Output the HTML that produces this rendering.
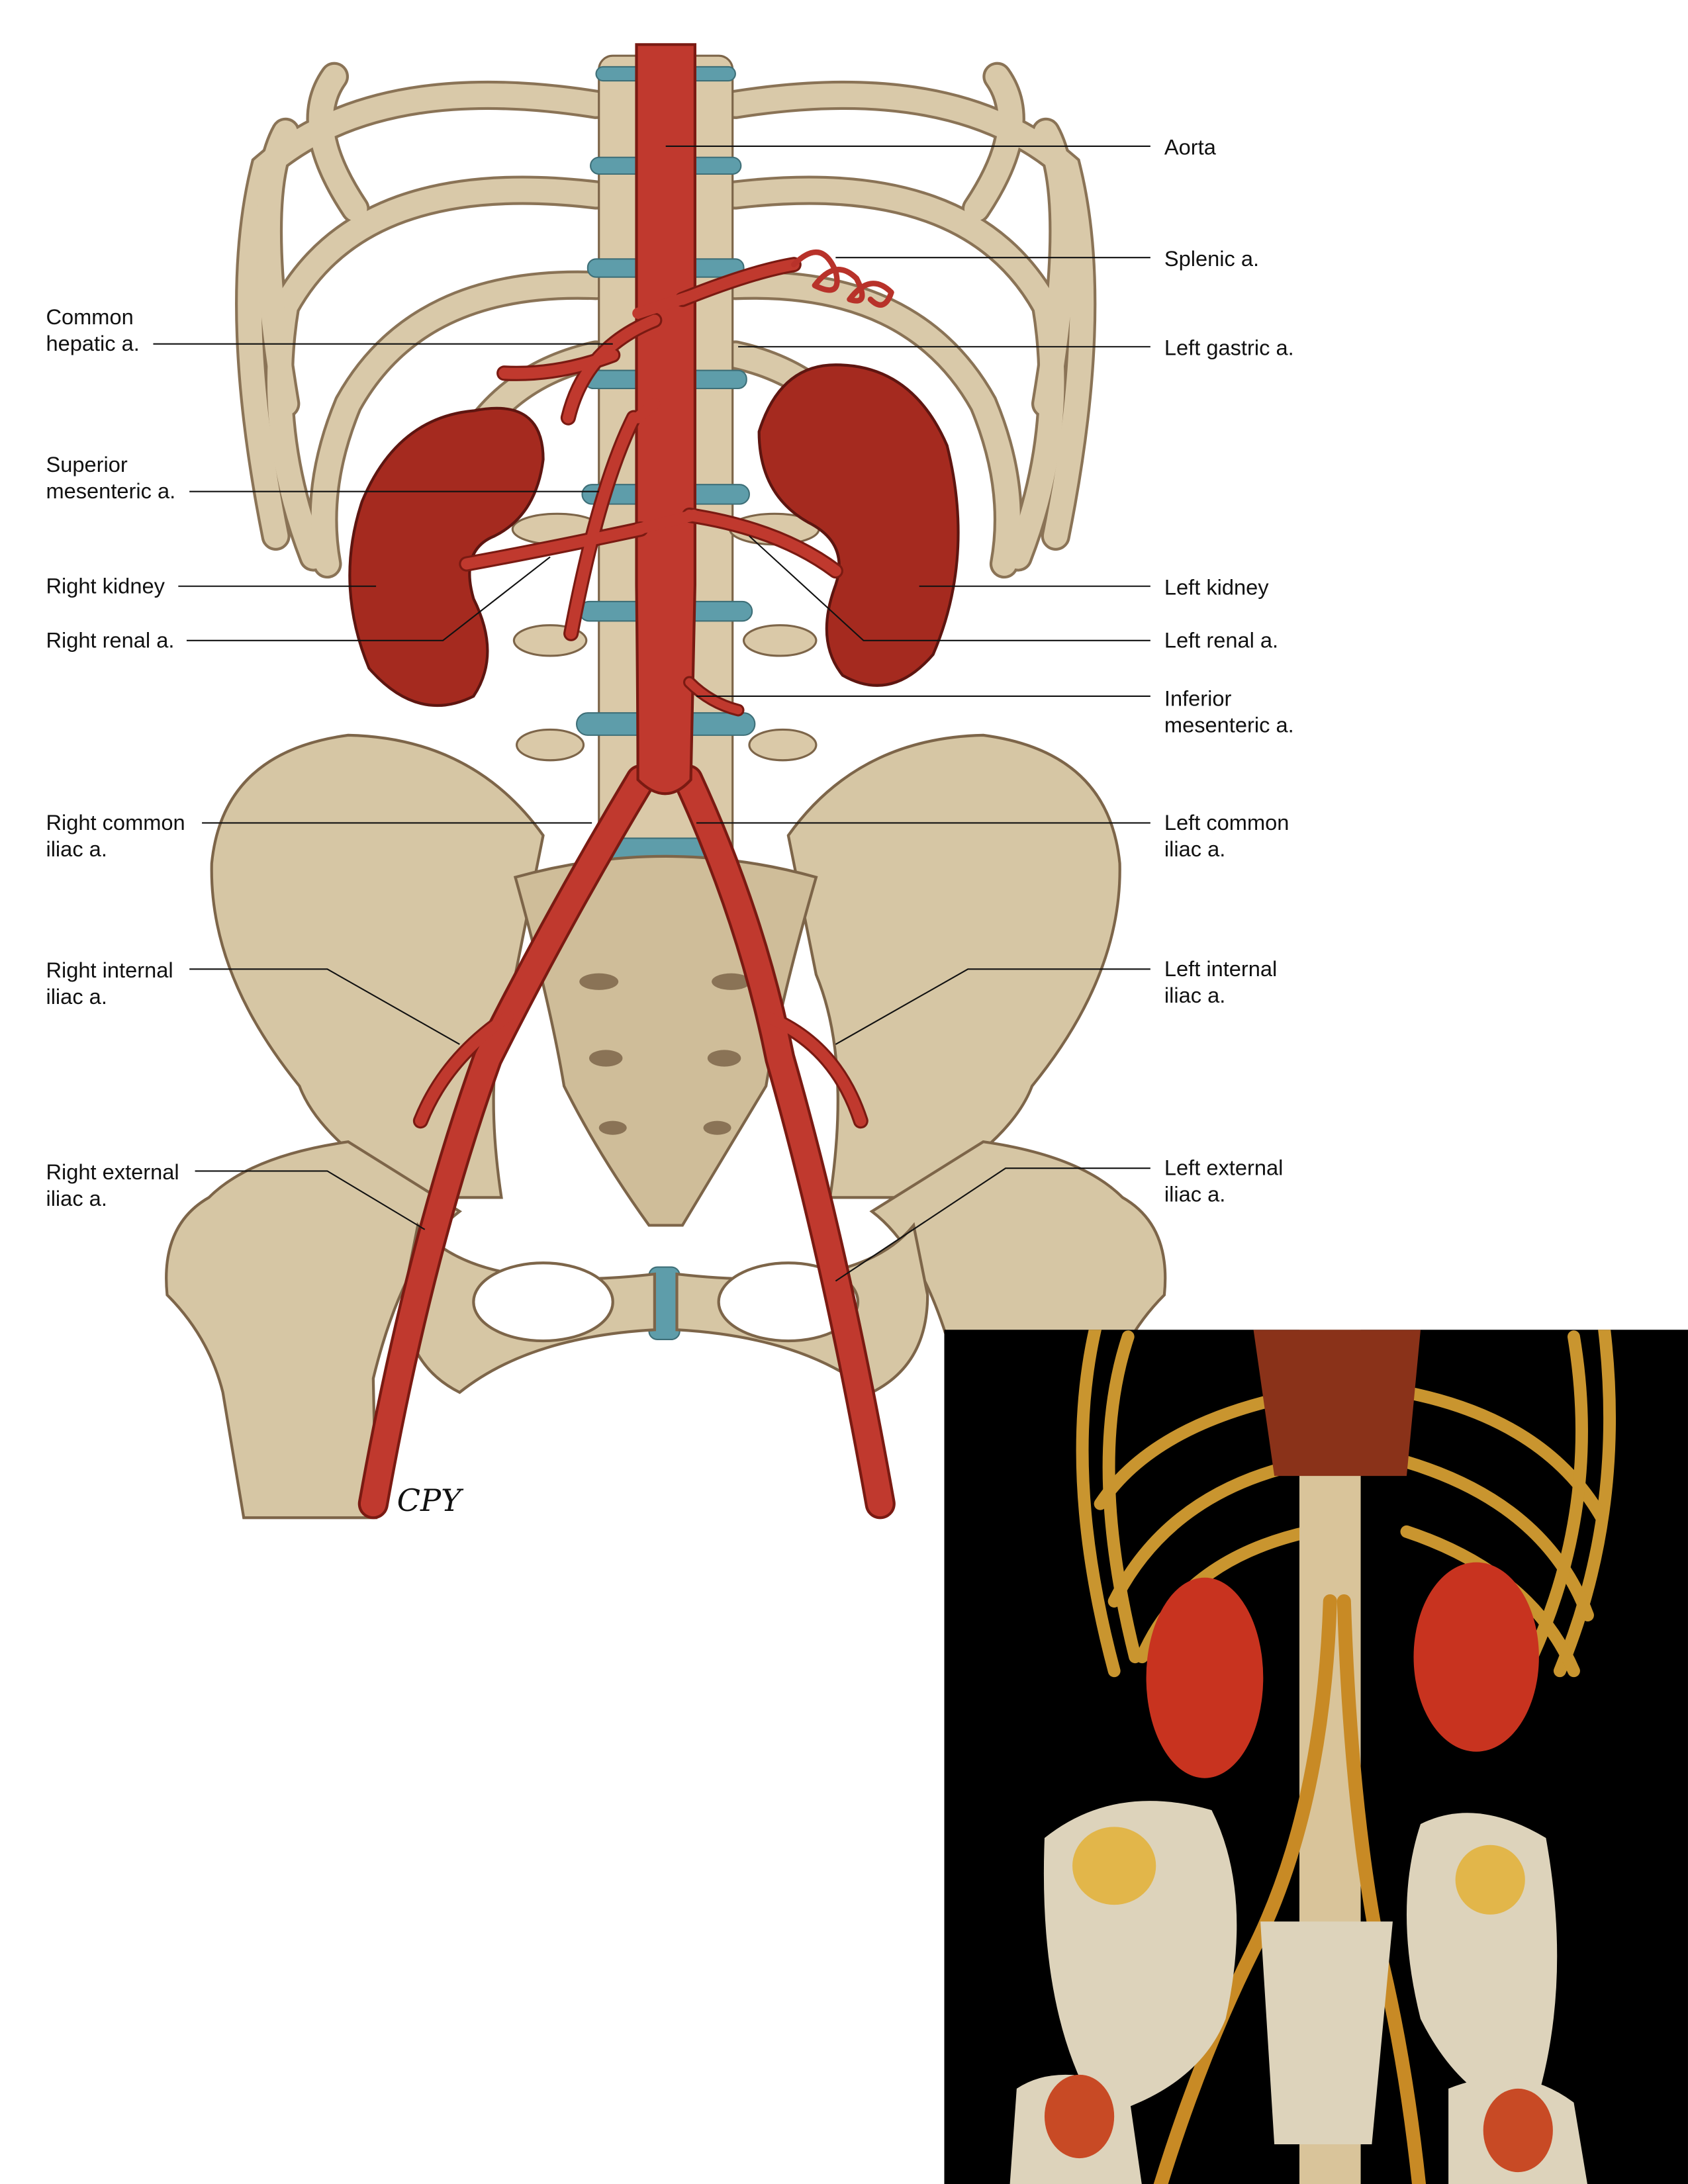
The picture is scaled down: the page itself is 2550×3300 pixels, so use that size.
<!DOCTYPE html>
<html><head><meta charset="utf-8"><style>
html,body{margin:0;padding:0;background:#fff;width:2550px;height:3300px;overflow:hidden}
svg{display:block}
text{font-family:"Liberation Sans",Arial,sans-serif;font-size:15.5px;fill:#111}
</style></head><body>
<svg width="2550" height="3300" viewBox="0 0 1212 1568.5" xmlns="http://www.w3.org/2000/svg">
<rect width="1212" height="1568.5" fill="#fff"/>
<defs>
<clipPath id="ct"><rect x="678" y="955" width="534" height="613.5"/></clipPath>
<g id="ribs">
 <g fill="none" stroke-linecap="round">
  <g stroke="#8a7356" stroke-width="21">
   <path d="M428,75 Q270,50 190,120 Q165,220 198,385"/>
   <path d="M428,140 Q260,120 205,220 Q190,310 225,400"/>
   <path d="M428,205 Q300,200 250,290 Q225,350 235,405"/>
   <path d="M428,255 Q360,270 330,330"/>
   <path d="M240,55 Q215,90 255,150"/>
   <path d="M205,95 Q180,140 205,290"/>
  </g>
  <g stroke="#d9c9a9" stroke-width="17">
   <path d="M428,75 Q270,50 190,120 Q165,220 198,385"/>
   <path d="M428,140 Q260,120 205,220 Q190,310 225,400"/>
   <path d="M428,205 Q300,200 250,290 Q225,350 235,405"/>
   <path d="M428,255 Q360,270 330,330"/>
   <path d="M240,55 Q215,90 255,150"/>
   <path d="M205,95 Q180,140 205,290"/>
  </g>
 </g>
</g>
<g id="pelv">
 <path d="M390,600 Q340,530 250,528 Q160,540 152,620 Q150,700 215,780 Q230,820 300,860 L360,860 Q345,760 370,700 Z" fill="#d6c6a4" stroke="#7d6549" stroke-width="2"/>
 <path d="M250,820 Q180,830 150,860 Q115,880 120,930 Q150,960 160,1000 L175,1090 L270,1090 L268,990 Q290,900 330,870 Z" fill="#d6c6a4" stroke="#7d6549" stroke-width="2"/>
 <path d="M300,880 Q340,930 470,915 L470,955 Q380,960 330,1000 Q290,980 290,930 Z" fill="#d6c6a4" stroke="#7d6549" stroke-width="2"/>
 <ellipse cx="390" cy="935" rx="50" ry="28" fill="#fff" stroke="#7d6549" stroke-width="2"/>
</g>
</defs>
<use href="#ribs"/>
<use href="#ribs" transform="translate(956,0) scale(-1,1)"/>
<g stroke="#7d6549" stroke-width="1.5" fill="#dac9a8">
 <rect x="430" y="40" width="96" height="580" rx="10"/>
 <ellipse cx="400" cy="380" rx="32" ry="11"/><ellipse cx="556" cy="380" rx="32" ry="11"/>
 <ellipse cx="395" cy="460" rx="26" ry="11"/><ellipse cx="560" cy="460" rx="26" ry="11"/>
 <ellipse cx="395" cy="535" rx="24" ry="11"/><ellipse cx="562" cy="535" rx="24" ry="11"/>
</g>
<g fill="#5e9daa" stroke="#3e6f78" stroke-width="1">
 <rect x="428" y="48" width="100" height="10" rx="5"/>
 <rect x="424" y="113" width="108" height="12" rx="6"/>
 <rect x="422" y="186" width="112" height="13" rx="6"/>
 <rect x="420" y="266" width="116" height="13" rx="6"/>
 <rect x="418" y="348" width="120" height="14" rx="7"/>
 <rect x="416" y="432" width="124" height="14" rx="7"/>
 <rect x="414" y="512" width="128" height="16" rx="8"/>
 <rect x="436" y="602" width="86" height="18" rx="9"/>
 <rect x="466" y="910" width="22" height="52" rx="6"/>
</g>
<use href="#pelv"/>
<use href="#pelv" transform="translate(956,0) scale(-1,1)"/>
<path d="M370,630 Q478,600 586,630 Q560,720 550,780 Q520,830 490,880 L466,880 Q430,830 405,780 Q395,720 370,630 Z" fill="#cfbd99" stroke="#7d6549" stroke-width="2"/>
<g fill="#8a7356"><ellipse cx="430" cy="705" rx="14" ry="6"/><ellipse cx="525" cy="705" rx="14" ry="6"/><ellipse cx="435" cy="760" rx="12" ry="6"/><ellipse cx="520" cy="760" rx="12" ry="6"/><ellipse cx="440" cy="810" rx="10" ry="5"/><ellipse cx="515" cy="810" rx="10" ry="5"/></g>
<g fill="#a52a1f" stroke="#5e1510" stroke-width="2">
 <path d="M340,295 Q390,285 390,330 Q385,370 355,385 Q330,395 340,430 Q360,470 340,500 Q300,520 265,480 Q240,420 260,360 Q285,300 340,295 Z"/>
 <path d="M600,262 Q655,262 680,320 Q700,400 670,470 Q640,505 605,485 Q585,460 600,420 Q610,390 580,375 Q545,355 545,310 Q560,262 600,262 Z"/>
</g>
<g fill="none" stroke-linecap="round" stroke-linejoin="round">
 <g stroke="#7a1a12">
  <path d="M460,560 Q400,660 350,760 Q300,900 268,1080" stroke-width="22"/>
  <path d="M494,560 Q540,660 560,760 Q600,900 632,1080" stroke-width="22"/>
  <path d="M365,730 Q320,760 302,805" stroke-width="11"/>
  <path d="M550,730 Q600,750 618,805" stroke-width="11"/>
 </g>
 <g stroke="#c0392e">
  <path d="M460,560 Q400,660 350,760 Q300,900 268,1080" stroke-width="18"/>
  <path d="M494,560 Q540,660 560,760 Q600,900 632,1080" stroke-width="18"/>
  <path d="M365,730 Q320,760 302,805" stroke-width="8"/>
  <path d="M550,730 Q600,750 618,805" stroke-width="8"/>
 </g>
</g>
<path d="M457,32 L499,32 L499,420 Q497,510 496,560 Q478,580 458,560 Q458,510 457,420 Z" fill="#c0392e" stroke="#7a1a12" stroke-width="2"/>
<g fill="none" stroke-linecap="round" stroke-linejoin="round">
 <g stroke="#7a1a12">
  <path d="M470,230 Q420,250 408,300 M440,255 Q400,270 362,268 M490,215 Q540,195 570,190" stroke-width="11"/>
  <path d="M455,300 Q430,350 410,455" stroke-width="11"/>
  <path d="M460,380 Q390,395 335,405 M495,370 Q560,380 600,410" stroke-width="11"/>
  <path d="M495,490 Q510,505 530,510" stroke-width="9"/>
 </g>
 <g stroke="#c0392e">
  <path d="M470,230 Q420,250 408,300 M440,255 Q400,270 362,268 M490,215 Q540,195 570,190" stroke-width="8"/>
  <path d="M455,300 Q430,350 410,455" stroke-width="8"/>
  <path d="M460,380 Q390,395 335,405 M495,370 Q560,380 600,410" stroke-width="8"/>
  <path d="M495,490 Q510,505 530,510" stroke-width="6"/>
 </g>
 <path d="M458,225 L498,212 M458,300 L470,290 M458,380 L498,370" stroke="#c0392e" stroke-width="8"/>
 <path d="M570,190 Q590,170 600,195 Q605,215 585,205 Q600,185 615,200 Q625,220 610,215 Q625,195 640,210 Q635,225 625,215" stroke="#b8322a" stroke-width="4"/>
</g>
<text x="285" y="1085" style="font-family:'DejaVu Serif',serif;font-style:italic;font-size:22px">CPY</text>
<g stroke="#111" stroke-width="1" fill="none">
 <path d="M478,105 H826"/><path d="M600,185 H826"/><path d="M530,249 H826"/>
 <path d="M110,247 H440"/><path d="M136,353 H430"/><path d="M128,421 H270"/>
 <path d="M134,460 H318 L395,400"/><path d="M660,421 H826"/>
 <path d="M826,460 H620 L538,385"/><path d="M500,500 H826"/>
 <path d="M145,591 H425"/><path d="M500,591 H826"/>
 <path d="M136,696 H235 L330,750"/><path d="M826,696 H695 L600,750"/>
 <path d="M140,841 H235 L305,883"/><path d="M826,839 H722 L600,920"/>
</g>
<g>
 <text x="836" y="111">Aorta</text>
 <text x="836" y="191">Splenic a.</text>
 <text x="836" y="255">Left gastric a.</text>
 <text x="33" y="233">Common</text><text x="33" y="252">hepatic a.</text>
 <text x="33" y="339">Superior</text><text x="33" y="358">mesenteric a.</text>
 <text x="33" y="426">Right kidney</text>
 <text x="33" y="465">Right renal a.</text>
 <text x="836" y="427">Left kidney</text>
 <text x="836" y="465">Left renal a.</text>
 <text x="836" y="507">Inferior</text><text x="836" y="526">mesenteric a.</text>
 <text x="33" y="596">Right common</text><text x="33" y="615">iliac a.</text>
 <text x="836" y="596">Left common</text><text x="836" y="615">iliac a.</text>
 <text x="33" y="702">Right internal</text><text x="33" y="721">iliac a.</text>
 <text x="836" y="701">Left internal</text><text x="836" y="720">iliac a.</text>
 <text x="33" y="847">Right external</text><text x="33" y="866">iliac a.</text>
 <text x="836" y="844">Left external</text><text x="836" y="863">iliac a.</text>
</g>
<rect x="678" y="955" width="534" height="613.5" fill="#000"/>
<g clip-path="url(#ct)">
<g fill="none" stroke-linecap="round">
 <g stroke="#c9952f" stroke-width="9">
  <path d="M790,940 Q760,1050 800,1200"/><path d="M1150,940 Q1170,1080 1120,1200"/>
  <path d="M940,1000 Q830,1020 790,1080"/><path d="M1010,1000 Q1110,1020 1150,1090"/>
  <path d="M940,1050 Q840,1070 800,1150"/><path d="M1010,1050 Q1110,1080 1140,1160"/>
  <path d="M940,1100 Q850,1120 820,1190"/><path d="M1010,1100 Q1100,1130 1130,1200"/>
  <path d="M810,960 Q780,1050 815,1190"/><path d="M1130,960 Q1150,1080 1100,1190"/>
 </g>
 <path d="M955,940 L955,1570" stroke="#d9c49a" stroke-width="44" stroke-linecap="butt"/>
 <path d="M955,1150 Q950,1300 900,1400 Q860,1480 830,1580" stroke="#c88a25" stroke-width="10"/>
 <path d="M965,1150 Q970,1300 990,1400 Q1010,1480 1020,1580" stroke="#c88a25" stroke-width="10"/>
</g>
<path d="M900,955 L1020,955 L1010,1060 L915,1060 Z" fill="#8a3219"/>
<ellipse cx="865" cy="1205" rx="42" ry="72" fill="#c8331f"/>
<ellipse cx="1060" cy="1190" rx="45" ry="68" fill="#c8331f"/>
<g fill="#ddd3bb">
 <path d="M750,1320 Q800,1280 870,1300 Q900,1360 880,1450 Q860,1500 790,1520 Q745,1450 750,1320 Z"/>
 <path d="M1110,1320 Q1060,1290 1020,1310 Q1000,1370 1020,1450 Q1050,1510 1100,1520 Q1130,1430 1110,1320 Z"/>
 <path d="M905,1380 L1000,1380 L985,1540 L915,1540 Z"/>
 <path d="M730,1500 Q760,1480 810,1500 L820,1570 L725,1570 Z"/>
 <path d="M1040,1500 Q1090,1480 1130,1510 L1140,1570 L1040,1570 Z"/>
</g>
<ellipse cx="800" cy="1340" rx="30" ry="28" fill="#e2b64a"/>
<ellipse cx="1070" cy="1350" rx="25" ry="25" fill="#e2b64a"/>
<ellipse cx="775" cy="1520" rx="25" ry="30" fill="#c84a25"/>
<ellipse cx="1090" cy="1530" rx="25" ry="30" fill="#c84a25"/>
</g>
</svg>
</body></html>
